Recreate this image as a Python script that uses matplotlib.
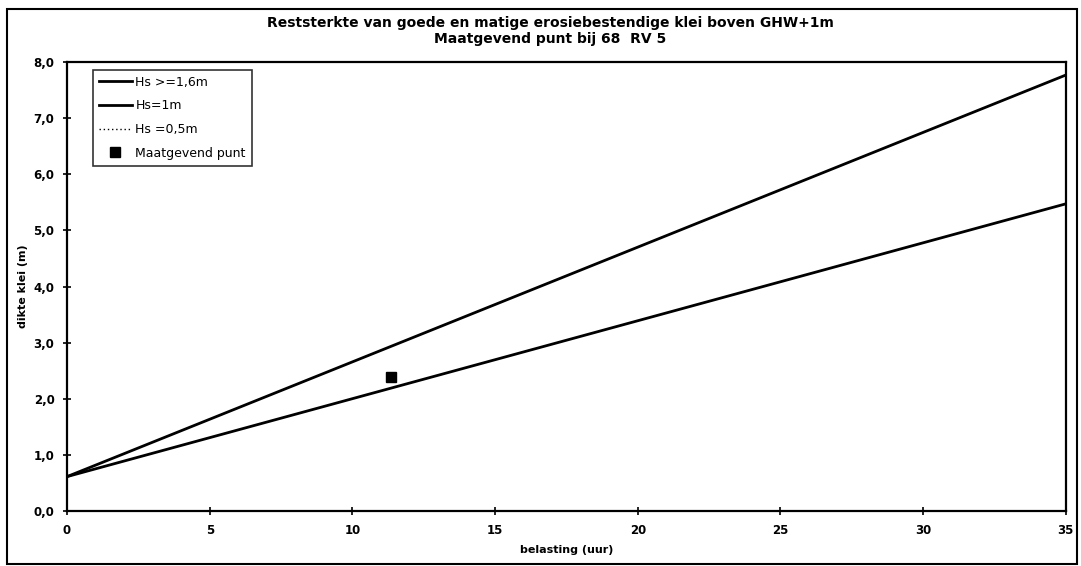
import numpy as np
import matplotlib
matplotlib.use('Agg')
import matplotlib.pyplot as plt
from matplotlib.patches import Rectangle
from matplotlib.ticker import FuncFormatter

# Data
belasting = [0, 35]
hs_16 = [0.62, 7.76]     # Hs >= 1,6m
hs_10 = [0.62, 5.47]     # Hs = 1m
hs_05_x = []             # Hs = 0,5m (niet zichtbaar in de grafiek)
hs_05_y = []
punt_x = [11.34]
punt_y = [2.40]

x_ticks = [0, 5, 10, 15, 20, 25, 30, 35]
y_ticks = [0, 1, 2, 3, 4, 5, 6, 7, 8]

plt.rcParams['font.family'] = ['DejaVu Sans']

fig = plt.figure(figsize=(10.81, 5.66), dpi=100)
ax = fig.add_axes([0.062, 0.0963, 0.924, 0.795])

ax.plot(belasting, hs_16, color='black', lw=2.0, label='Hs >=1,6m')
ax.plot(belasting, hs_10, color='black', lw=2.0, label='Hs=1m')
ax.plot(hs_05_x, hs_05_y, color='black', lw=1.0, ls=(0, (1, 2)), label='Hs =0,5m')
ax.plot(punt_x, punt_y, ls='none', marker='s', ms=6.5, color='black', label='Maatgevend punt')

ax.set_xlim(0, 35)
ax.set_ylim(0, 8)
ax.set_xticks(x_ticks)
ax.set_yticks(y_ticks)
ax.yaxis.set_major_formatter(FuncFormatter(lambda v, p: f"{v:.1f}".replace('.', ',')))
ax.tick_params(axis='both', direction='inout', length=6, width=1.2, labelsize=8.5, pad=6)
for lbl in ax.get_xticklabels() + ax.get_yticklabels():
    lbl.set_fontweight('bold')
for s in ax.spines.values():
    s.set_linewidth(1.6)

ax.set_xlabel('belasting (uur)', fontsize=8, fontweight='bold', labelpad=6)
ax.set_ylabel('dikte klei (m)', fontsize=8, fontweight='bold', labelpad=4)

fig.text(0.509, 0.960, 'Reststerkte van goede en matige erosiebestendige klei boven GHW+1m',
         ha='center', va='center', fontsize=10, fontweight='bold')
fig.text(0.509, 0.931, 'Maatgevend punt bij 68  RV 5',
         ha='center', va='center', fontsize=10, fontweight='bold')

leg = ax.legend(loc='upper left', bbox_to_anchor=(0.026, 0.982), fontsize=9,
                frameon=True, fancybox=False, edgecolor='black', handlelength=2.6,
                handletextpad=0.3, borderpad=0.5, labelspacing=0.85,
                borderaxespad=0)
leg.get_frame().set_linewidth(1.2)

# buitenkader
fig.patches.append(Rectangle((7 / 1081, 2 / 566), 1070 / 1081, 555 / 566,
                             transform=fig.transFigure, fill=False,
                             edgecolor='black', lw=1.5))

fig.savefig('out.png', dpi=100)
